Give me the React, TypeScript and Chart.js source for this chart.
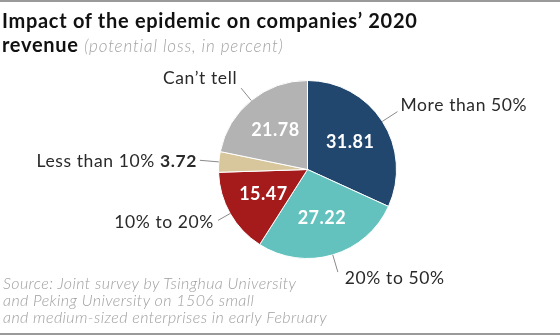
import React, { useEffect, useRef } from "react";
import { Chart, registerables } from "chart.js";

Chart.register(...registerables);

// ---- data ----
const categories = ["More than 50%", "20% to 50%", "10% to 20%", "Less than 10%", "Can’t tell"];
const values = [31.81, 27.22, 15.47, 3.72, 21.78];
const colors = ["#22476f", "#63c2be", "#a51b1b", "#d8c69c", "#b3b3b3"];
const valueInside = [true, true, true, false, true];

// ---- label placement (style) ----
const leaderLen = [18, 18, 14, 19, 16];
const labelDx = [3, 7, -4, -3, -4];
const labelDy = [-6, 6, 2, 1, -10];
const labelAlign: ("left" | "right")[] = ["left", "left", "right", "right", "right"];

const FONT = "Lato, 'Open Sans', sans-serif";

const labelPlugin = {
  id: "pieLabels",
  afterDatasetsDraw(chart: any) {
    const ctx = chart.ctx;
    const meta = chart.getDatasetMeta(0);
    ctx.save();
    meta.data.forEach((arc: any, i: number) => {
      const p = arc.getProps(["x", "y", "startAngle", "endAngle", "outerRadius"], true);
      const mid = (p.startAngle + p.endAngle) / 2;
      const cos = Math.cos(mid);
      const sin = Math.sin(mid);
      if (valueInside[i]) {
        const r = p.outerRadius * 0.57;
        ctx.fillStyle = "#ffffff";
        ctx.font = `bold 18px ${FONT}`;
        (ctx as any).letterSpacing = "0.5px";
        ctx.textAlign = "center";
        ctx.textBaseline = "middle";
        ctx.fillText(values[i].toFixed(2), p.x + cos * r, p.y + sin * r);
      }
      const r0 = p.outerRadius;
      const r1 = p.outerRadius + leaderLen[i];
      const x0 = p.x + cos * r0;
      const y0 = p.y + sin * r0;
      const x1 = p.x + cos * r1;
      const y1 = p.y + sin * r1;
      ctx.strokeStyle = "#8a8a8a";
      ctx.lineWidth = 1;
      ctx.beginPath();
      ctx.moveTo(x0, y0);
      ctx.lineTo(x1, y1);
      ctx.stroke();
      const tx = x1 + labelDx[i];
      const ty = y1 + labelDy[i];
      ctx.textBaseline = "middle";
      ctx.fillStyle = "#2a2a2a";
      (ctx as any).letterSpacing = "0.6px";
      if (!valueInside[i]) {
        ctx.font = `bold 17.5px ${FONT}`;
        const valTxt = values[i].toFixed(2);
        const vw = ctx.measureText(valTxt).width;
        ctx.textAlign = "right";
        ctx.fillText(valTxt, tx, ty);
        ctx.font = `17.5px ${FONT}`;
        ctx.fillText(categories[i] + " ", tx - vw, ty);
      } else {
        ctx.font = `17.5px ${FONT}`;
        ctx.textAlign = labelAlign[i];
        ctx.fillText(categories[i], tx, ty);
      }
    });
    ctx.restore();
  },
};

export default function App() {
  const ref = useRef<HTMLCanvasElement | null>(null);

  useEffect(() => {
    if (!ref.current) return;
    const chart = new Chart(ref.current, {
      type: "pie",
      data: {
        labels: categories,
        datasets: [
          {
            data: values,
            backgroundColor: colors,
            borderColor: "#ffffff",
            borderWidth: 1,
          },
        ],
      },
      options: {
        responsive: false,
        animation: false,
        layout: { padding: { left: 218, right: 163, top: 80, bottom: 76 } },
        plugins: {
          legend: { display: false },
          tooltip: { enabled: false },
          title: { display: false },
        },
      },
      plugins: [labelPlugin],
    });
    return () => chart.destroy();
  }, []);

  return (
    <div
      style={{
        position: "absolute",
        left: 0,
        top: 0,
        width: 560,
        height: 335,
        background: "#fff",
        overflow: "hidden",
        fontFamily: FONT,
      }}
    >
      <canvas ref={ref} width={560} height={335} style={{ position: "absolute", left: 0, top: 0 }} />
      <div style={{ position: "absolute", left: 0, top: 0, width: 560, height: 2, background: "#9a9a9a" }} />
      <div style={{ position: "absolute", left: 0, top: 333, width: 560, height: 2, background: "#9a9a9a" }} />
      <div
        style={{
          position: "absolute",
          left: 2,
          top: 8,
          fontSize: 20,
          lineHeight: "24px",
          fontWeight: 700,
          letterSpacing: "0.7px",
          color: "#111",
          whiteSpace: "nowrap",
        }}
      >
        <div>Impact of the epidemic on companies’ 2020</div>
        <div>
          revenue{" "}
          <span style={{ fontWeight: 300, fontStyle: "italic", fontSize: 17, letterSpacing: "0.85px", color: "#a3a3a3" }}>
            (potential loss, in percent)
          </span>
        </div>
      </div>
      <div
        style={{
          position: "absolute",
          left: 3,
          top: 274,
          fontSize: 16,
          lineHeight: "17px",
          fontStyle: "italic",
          fontWeight: 300,
          letterSpacing: "0.4px",
          color: "#a0a0a0",
          whiteSpace: "nowrap",
        }}
      >
        <div>Source: Joint survey by Tsinghua University</div>
        <div>and Peking University on 1506 small</div>
        <div>and medium-sized enterprises in early February</div>
      </div>
    </div>
  );
}
